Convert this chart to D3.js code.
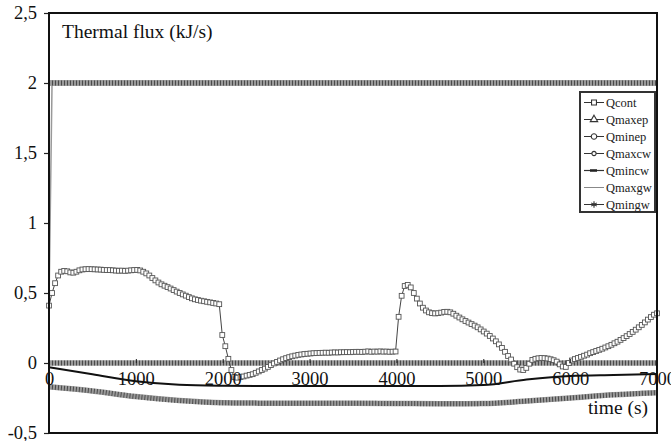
<!DOCTYPE html>
<html><head><meta charset="utf-8">
<script src="https://cdn.jsdelivr.net/npm/d3@7/dist/d3.min.js"></script>
</head>
<body style="margin:0;background:#fff">
<svg id="c" width="671" height="441" style="display:block"></svg>
<script>
// ---- data ----
const yTickValues = [-0.5, 0, 0.5, 1, 1.5, 2, 2.5];
const yTickLabels = ["-0,5", "0", "0,5", "1", "1,5", "2", "2,5"];
const xTickValues = [0, 1000, 2000, 3000, 4000, 5000, 6000, 7000];
const seriesNames = ["Qcont", "Qmaxep", "Qminep", "Qmaxcw", "Qmincw", "Qmaxgw", "Qmingw"];

const qcontStep = 35; // s between Qcont samples
const qcont = [
0.41,0.50,0.57,0.625,0.652,0.658,0.655,0.647,0.645,0.652,
0.662,0.668,0.67,0.671,0.67,0.669,0.668,0.667,0.665,0.664,
0.664,0.662,0.66,0.659,0.66,0.658,0.66,0.662,0.664,0.665,
0.661,0.652,0.64,0.625,0.607,0.59,0.575,0.562,0.552,0.542,
0.532,0.521,0.51,0.5,0.49,0.481,0.471,0.462,0.455,0.45,
0.445,0.441,0.437,0.433,0.429,0.425,0.42,0.2,0.12,0.03,
-0.05,-0.1,-0.105,-0.1,-0.096,-0.09,-0.085,-0.08,-0.07,-0.06,
-0.05,-0.04,-0.028,-0.015,-0.003,0.008,0.018,0.027,0.035,0.042,
0.048,0.053,0.058,0.061,0.064,0.066,0.068,0.07,0.071,0.072,
0.073,0.074,0.073,0.075,0.076,0.075,0.077,0.077,0.078,0.077,
0.079,0.08,0.08,0.079,0.081,0.083,0.08,0.082,0.081,0.083,
0.081,0.082,0.08,0.081,0.082,0.33,0.48,0.55,0.558,0.54,
0.5,0.46,0.425,0.395,0.375,0.362,0.356,0.354,0.356,0.36,
0.365,0.366,0.362,0.352,0.338,0.325,0.312,0.3,0.289,0.278,
0.267,0.255,0.24,0.225,0.21,0.193,0.175,0.155,0.133,0.108,
0.08,0.05,0.025,-0.005,-0.03,-0.047,-0.05,-0.035,-0.005,0.022,
0.03,0.034,0.036,0.035,0.032,0.027,0.02,0.01,-0.01,-0.025,
-0.028,0.0,0.018,0.028,0.036,0.044,0.052,0.06,0.07,0.078,
0.086,0.094,0.102,0.111,0.12,0.13,0.141,0.152,0.165,0.178,
0.192,0.207,0.222,0.238,0.255,0.272,0.29,0.31,0.328,0.345,
0.355
];

const slowTimes = [0,500,1000,1500,2000,2500,3000,3500,4000,4500,5000,5500,6000,6500,7000];
const qmaxep = [2,2,2,2,2,2,2,2,2,2,2,2,2,2,2];
const qmaxcw = [2,2,2,2,2,2,2,2,2,2,2,2,2,2,2];
const qminep = [0,0,0,0,0,0,0,0,0,0,0,0,0,0,0];
const qmincw = [-0.03,-0.08,-0.13,-0.155,-0.162,-0.164,-0.165,-0.165,-0.165,-0.165,-0.158,-0.118,-0.092,-0.085,-0.079];
const qmingw = [-0.17,-0.2,-0.24,-0.268,-0.284,-0.287,-0.288,-0.288,-0.289,-0.291,-0.29,-0.272,-0.25,-0.227,-0.212];
const qmaxgwTimes = [0, 35, 7000];
const qmaxgw = [0.41, 2, 2];

// ---- chart ----
const FONT = "'Liberation Serif', 'Tinos', 'Times New Roman', 'FreeSerif'";
const svg = d3.select("#c");
const L = 49, R = 657, T = 13, B = 433;
const x = d3.scaleLinear().domain([0, 7000]).range([L, R]);
const y = d3.scaleLinear().domain([-0.5, 2.5]).range([B, T]);

const qcontData = qcont.map((v, i) => [i * qcontStep, v]);
const zip = (ts, vs) => vs.map((v, i) => [ts[i], v]);
const line = d3.line().x(d => x(d[0])).y(d => y(d[1]));
const smooth = d3.line().x(d => x(d[0])).y(d => y(d[1])).curve(d3.curveMonotoneX);

const g = svg.append("g");

function hatched(data) {
  g.append("path").attr("d", smooth(data)).attr("fill", "none")
    .attr("stroke", "#9a9a9a").attr("stroke-width", 5.5);
  g.append("path").attr("d", smooth(data)).attr("fill", "none")
    .attr("stroke", "#4a4a4a").attr("stroke-width", 5).attr("stroke-dasharray", "1,2");
}

g.append("path").attr("d", line(zip(qmaxgwTimes, qmaxgw))).attr("fill", "none")
  .attr("stroke", "#999").attr("stroke-width", 1.5);
hatched(zip(slowTimes, qmaxep));
hatched(zip(slowTimes, qmaxcw));
hatched(zip(slowTimes, qminep));
hatched(zip(slowTimes, qmingw));
g.append("path").attr("d", smooth(zip(slowTimes, qmincw))).attr("fill", "none")
  .attr("stroke", "#111").attr("stroke-width", 2);

g.append("path").attr("d", line(qcontData)).attr("fill", "none")
  .attr("stroke", "#444").attr("stroke-width", 1);
g.selectAll("rect.sq").data(qcontData).enter().append("rect").attr("class", "sq")
  .attr("x", d => x(d[0]) - 2.4).attr("y", d => y(d[1]) - 2.4)
  .attr("width", 4.8).attr("height", 4.8)
  .attr("fill", "#fff").attr("stroke", "#555").attr("stroke-width", 0.9);

// axes
const yAxis = d3.axisLeft(y).tickValues(yTickValues)
  .tickFormat((d, i) => yTickLabels[i]).tickSize(5).tickPadding(7);
const ya = svg.append("g").attr("transform", `translate(${L},0)`).call(yAxis);
ya.attr("font-family", FONT).attr("font-size", 18.5);
ya.select(".domain").remove();
ya.selectAll("line").attr("stroke", "#222").attr("stroke-width", 1.2);
ya.selectAll("text").attr("fill", "#111").attr("font-family", FONT).style("font-family", FONT);

const xAxis = d3.axisBottom(x).tickValues(xTickValues).tickFormat(d3.format("d"))
  .tickSizeInner(-4).tickSizeOuter(0).tickPadding(9);
const xa = svg.append("g").attr("transform", `translate(0,${y(0)})`).call(xAxis);
xa.attr("font-family", FONT).attr("font-size", 18.5);
xa.select(".domain").remove();
xa.selectAll("line").attr("stroke", "#222");
xa.selectAll("text").attr("fill", "#111").attr("font-family", FONT).style("font-family", FONT);

// frame
svg.append("rect").attr("x", L).attr("y", T).attr("width", R - L).attr("height", B - T)
  .attr("fill", "none").attr("stroke", "#111").attr("stroke-width", 2);

// titles
svg.append("text").attr("x", 62).attr("y", 38).attr("font-size", 19.5).attr("fill", "#111")
  .attr("font-family", FONT).style("font-family", FONT).text("Thermal flux (kJ/s)");
svg.append("text").attr("x", 648).attr("y", 414).attr("text-anchor", "end")
  .attr("font-size", 19.5).attr("fill", "#111")
  .attr("font-family", FONT).style("font-family", FONT).text("time (s)");

// legend
const lg = svg.append("g");
lg.append("rect").attr("x", 580).attr("y", 92).attr("width", 75).attr("height", 120)
  .attr("fill", "#fff").attr("stroke", "#333").attr("stroke-width", 2);
const markerFor = {
  Qcont: d3.symbolSquare, Qmaxep: d3.symbolTriangle, Qminep: d3.symbolCircle,
  Qmaxcw: d3.symbolCircle, Qmingw: d3.symbolAsterisk
};
seriesNames.forEach((n, i) => {
  const cy = 102.5 + i * 17;
  lg.append("line").attr("x1", 584).attr("x2", 604).attr("y1", cy).attr("y2", cy)
    .attr("stroke", n === "Qmaxgw" ? "#888" : "#333").attr("stroke-width", n === "Qmincw" ? 1.2 : 1);
  if (n === "Qmincw") {
    lg.append("line").attr("x1", 590).attr("x2", 597).attr("y1", cy).attr("y2", cy)
      .attr("stroke", "#222").attr("stroke-width", 2.5);
  } else if (markerFor[n]) {
    const sz = n === "Qmaxcw" ? 14 : (n === "Qmingw" ? 30 : 24);
    lg.append("path").attr("d", d3.symbol(markerFor[n], sz)())
      .attr("transform", `translate(594,${cy})`)
      .attr("fill", n === "Qmingw" ? "none" : "#fff").attr("stroke", "#333").attr("stroke-width", 1.1);
  }
  lg.append("text").attr("x", 606).attr("y", cy + 4.5).attr("font-size", 12.5)
    .attr("fill", "#222").attr("font-family", FONT).style("font-family", FONT).text(n);
});
</script></body></html>
